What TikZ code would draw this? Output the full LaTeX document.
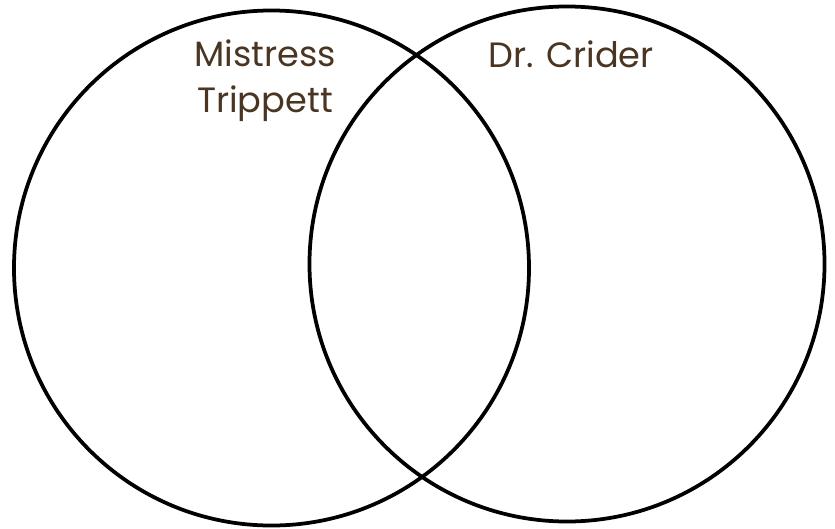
\documentclass[tikz,border=0pt]{standalone}
\usepackage{fontspec}
\setmainfont{Poppins}
\usepackage{tikz}
\usetikzlibrary{positioning}
\definecolor{inkbrown}{RGB}{74,52,34}

\tikzset{
  setring/.style={draw=black, line width=3.2pt, circle, inner sep=0pt, minimum size=15.45cm},
  setname/.style={text=inkbrown, align=center, font=\fontsize{30}{38.5}\selectfont, inner sep=0pt}
}

\begin{document}
\begin{tikzpicture}[x=0.03cm, y=-0.03cm]
  \useasboundingbox (0,0) rectangle (835,528);

  % the two sets
  \node[setring] (trippett) at (271.5,268) {};
  \node[setring] (crider) at (567,264) {};

  % set names
  \node[setname, anchor=base] (trippettname) at (265,112) {Mistress\\Trippett};
  \node[setname, anchor=base] (cridername) at (571,67) {Dr. Crider};
\end{tikzpicture}
\end{document}
